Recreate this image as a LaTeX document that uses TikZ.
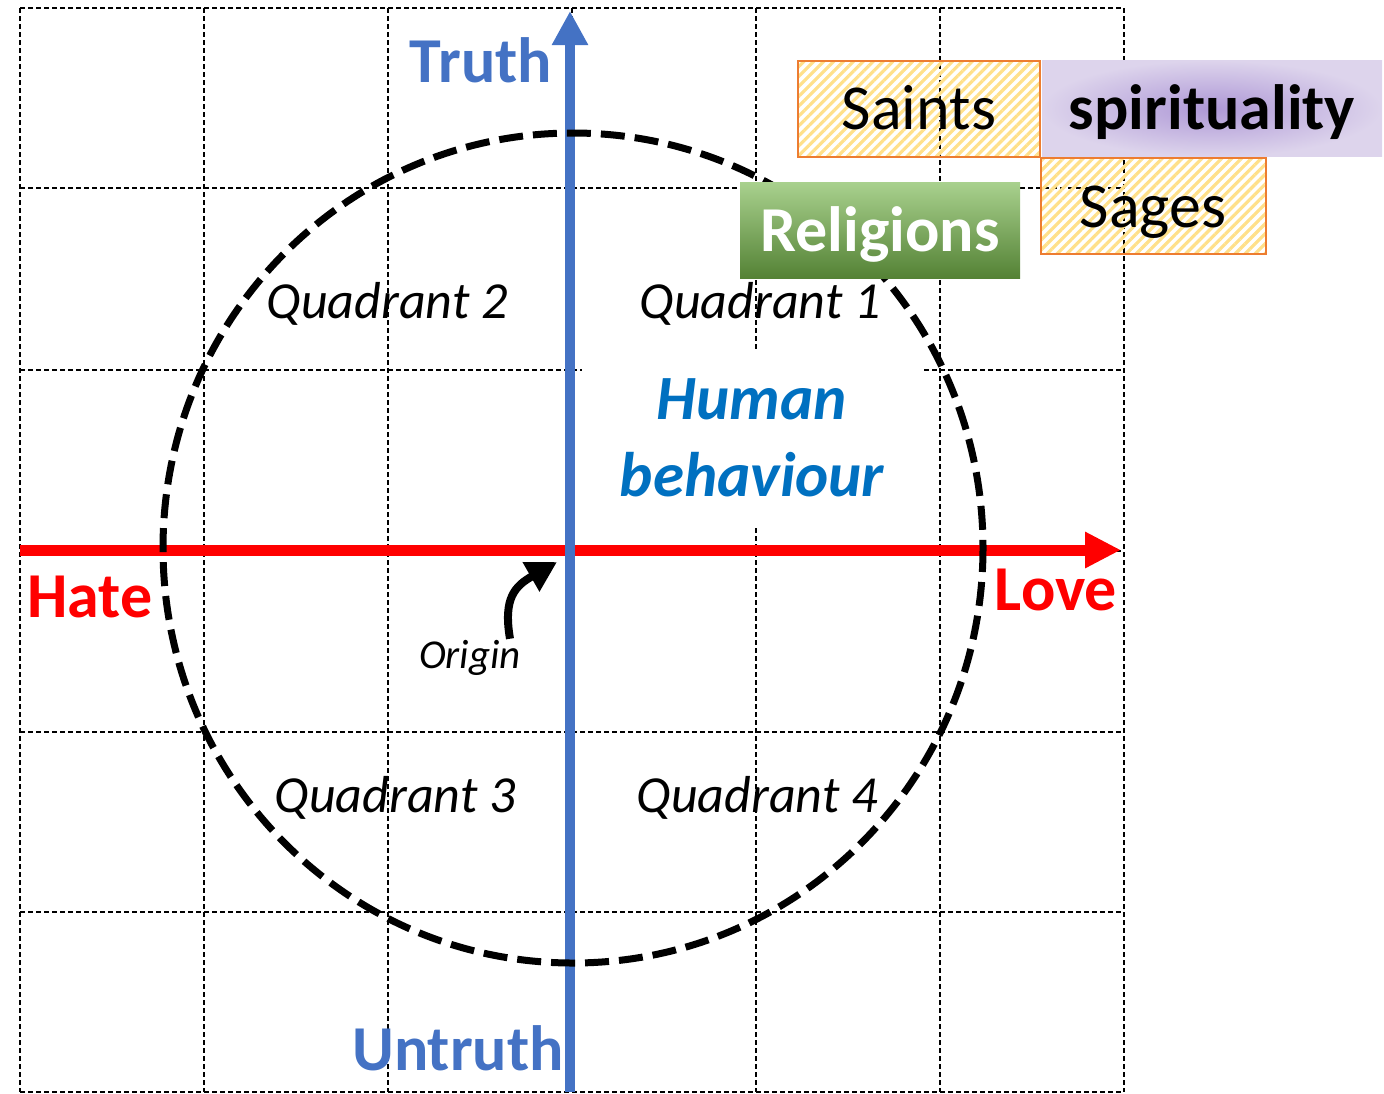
\documentclass[tikz,border=0pt]{standalone}
\usepackage{fontspec}
\setmainfont{Carlito}
\usetikzlibrary{arrows.meta,patterns.meta,positioning}

\definecolor{axisblue}{HTML}{4472C4}
\definecolor{humanblue}{HTML}{0070C0}
\definecolor{boxorange}{HTML}{ED7D31}
\definecolor{hatchyellow}{HTML}{FFE08A}
\definecolor{spiritdark}{HTML}{AE98D6}
\definecolor{spiritlight}{HTML}{DDD4EC}
\definecolor{greentop}{HTML}{A9D18E}
\definecolor{greenmid}{HTML}{70AD47}
\definecolor{greenbot}{HTML}{548235}

\begin{document}
\begin{tikzpicture}
  [x=0.5pt,y=-0.5pt,
   gridline/.style={line width=0.9pt,dash pattern=on 2.5pt off 1.5pt},
   axislabel/.style={font=\fontsize{32}{38}\selectfont\bfseries,anchor=base},
   quad/.style={font=\fontsize{26}{31}\selectfont\itshape,anchor=base},
   boxtext/.style={minimum height=48pt,text height=21pt,text depth=0pt,inner sep=0pt,font=\fontsize{32}{38}\selectfont},
   hatchbox/.style={boxtext,draw=boxorange,line width=1pt,pattern={Lines[angle=45,distance=3.5pt,line width=1.6pt]},pattern color=hatchyellow}]
  \useasboundingbox (0,0) rectangle (1384,1093);

  % grid
  \foreach \x in {20,204,388,572,756,940,1124}
  \draw[gridline] (\x,8) -- (\x,1092);
  \foreach \y in {8,188,370,551,732,912,1092}
  \draw[gridline] (20,\y) -- (1124,\y);

  \node (human) at (752,438) [fill=white,minimum width=170pt,minimum height=88pt,align=center,
    text=humanblue,font=\fontsize{31.5}{38.5}\selectfont\bfseries\itshape] {Human\\behaviour};

  % axes
  \coordinate (west) at (20,550);
  \coordinate (east) at (1121,550);
  \coordinate (south) at (570,1092);
  \coordinate (north) at (570,11);
  \draw[red,line width=5.5pt,-{Triangle[length=18pt,width=17pt]}] (west) -- (east);
  \draw[axisblue,line width=5pt,-{Triangle[length=17pt,width=17pt]}] (south) -- (north);

  \draw[line width=3.5pt,dash pattern=on 12pt off 5pt] (573,548) ellipse [x radius=410,y radius=415];

  \node[axislabel,text=axisblue] (truth) at (481,82) {Truth};
  \node[axislabel,text=axisblue] (untruth) at (458,1070) {Untruth};
  \node[axislabel,text=red] (hate) at (90,617) {Hate};
  \node[axislabel,text=red] (love) at (1056,610) {Love};

  \node[quad] (q1) at (760,318) {Quadrant 1};
  \node[quad] (q2) at (387,318) {Quadrant 2};
  \node[quad] (q3) at (395,812) {Quadrant 3};
  \node[quad] (q4) at (757,812) {Quadrant 4};

  \node[anchor=base,font=\fontsize{20.5}{24}\selectfont\itshape] (origin) at (470,668) {Origin};
  \coordinate (o) at (557,562);
  \draw[line width=4pt,-{Triangle[length=15pt,width=16pt]}]
    ([xshift=-9pt,yshift=-3pt]origin.north east) .. controls (503,598) and (515,586) .. (o);

  % boxes
  \node[hatchbox,minimum width=121pt] (saints) at (919,108.5) {Saints};
  \node[boxtext,right=0pt of saints,minimum width=170pt,inner color=spiritdark,outer color=spiritlight,
    font=\fontsize{32}{38}\selectfont\bfseries] (spirit) {spirituality};
  \node[hatchbox,below right=-0.5pt and -1pt of saints,minimum width=112.5pt] (sages) {Sages};
  \node[boxtext,minimum width=140pt,top color=greentop,middle color=greenmid,bottom color=greenbot,
    text=white,font=\fontsize{32}{38}\selectfont\bfseries] (relig) at (880,230) {Religions};
\end{tikzpicture}
\end{document}
